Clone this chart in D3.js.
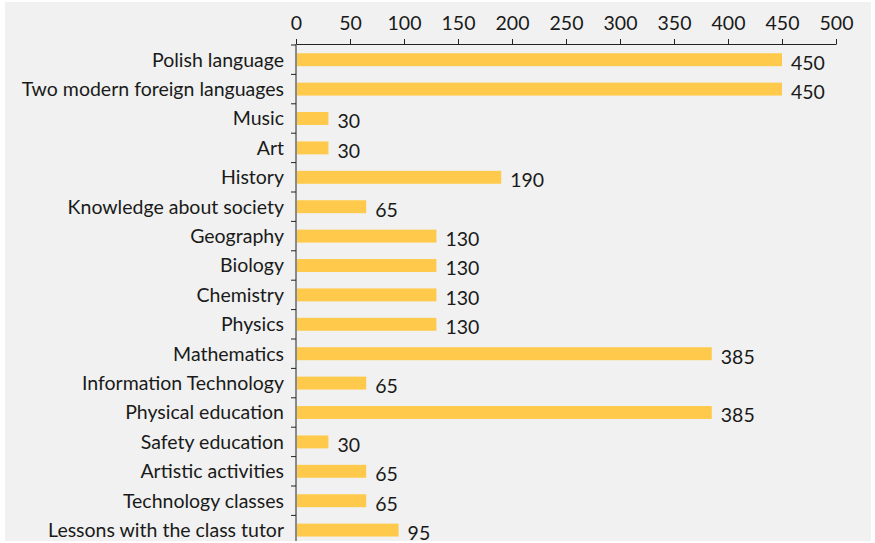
<!DOCTYPE html>
<html><head><meta charset="utf-8">
<script src="https://cdn.jsdelivr.net/npm/d3@7"></script>
<style>
html,body{margin:0;padding:0;background:#fff;}
svg{display:block;}
text{font-family:Lato,"Open Sans",sans-serif;fill:#1a1a1a;}
</style></head>
<body>
<svg id="c" width="875" height="543"></svg>
<script>
const categories = ["Polish language","Two modern foreign languages","Music","Art","History","Knowledge about society","Geography","Biology","Chemistry","Physics","Mathematics","Information Technology","Physical education","Safety education","Artistic activities","Technology classes","Lessons with the class tutor"];
const values = [450,450,30,30,190,65,130,130,130,130,385,65,385,30,65,65,95];
const xTicks = [0,50,100,150,200,250,300,350,400,450,500];

(function(){
const svg = d3.select("#c");
svg.append("rect").attr("x",5).attr("y",2).attr("width",866).attr("height",539).attr("fill","#f0f1f0");

const mLeft = 296, mRight = 836, mTop = 45, bandStep = 29.4;
const x = d3.scaleLinear().domain([0,500]).range([mLeft,mRight]);
const y = d3.scaleBand().domain(categories).range([mTop, mTop + bandStep*categories.length]).paddingInner(0.56).paddingOuter(0.28);

const g = svg.append("g");
g.append("clipPath").attr("id","clip").append("rect").attr("x",0).attr("y",0).attr("width",875).attr("height",541);
const plot = g.append("g").attr("clip-path","url(#clip)");

plot.selectAll("rect.bar").data(categories).join("rect").attr("class","bar")
  .attr("x", x(0)+1).attr("y", d=>y(d)).attr("height", y.bandwidth())
  .attr("width", (d,i)=>x(values[i])-x(0)-1).attr("fill","#ffca4b");

plot.selectAll("text.val").data(categories).join("text").attr("class","val")
  .attr("x",(d,i)=>x(values[i])+9).attr("y",d=>y(d)+y.bandwidth()/2+5)
  .attr("dominant-baseline","middle").attr("font-size",19.5).text((d,i)=>values[i]);

const xAxis = d3.axisTop(x).tickValues(xTicks).tickSize(5).tickSizeOuter(0).tickPadding(9);
const xa = svg.append("g").attr("transform",`translate(0,44)`).call(xAxis);
xa.select(".domain").attr("stroke","#222");
xa.selectAll(".tick line").attr("stroke","#222");
xa.selectAll("text").attr("font-size",19.5).attr("fill","#1a1a1a").style("font-family","Lato, sans-serif");

const yAxisG = plot.append("g");
yAxisG.append("line").attr("x1",mLeft).attr("x2",mLeft).attr("y1",44).attr("y2",545).attr("stroke","#222");
const bounds = d3.range(categories.length+1).map(i=>mTop + i*bandStep);
yAxisG.selectAll("line.yt").data(bounds).join("line").attr("class","yt")
  .attr("x1",mLeft-5).attr("x2",mLeft).attr("y1",d=>d).attr("y2",d=>d).attr("stroke","#222");
yAxisG.selectAll("text.cat").data(categories).join("text").attr("class","cat")
  .attr("x",284).attr("y",d=>y(d)+y.bandwidth()/2+2).attr("text-anchor","end")
  .attr("dominant-baseline","middle").attr("font-size",19.5).text(d=>d);
})();
</script>
</body></html>
